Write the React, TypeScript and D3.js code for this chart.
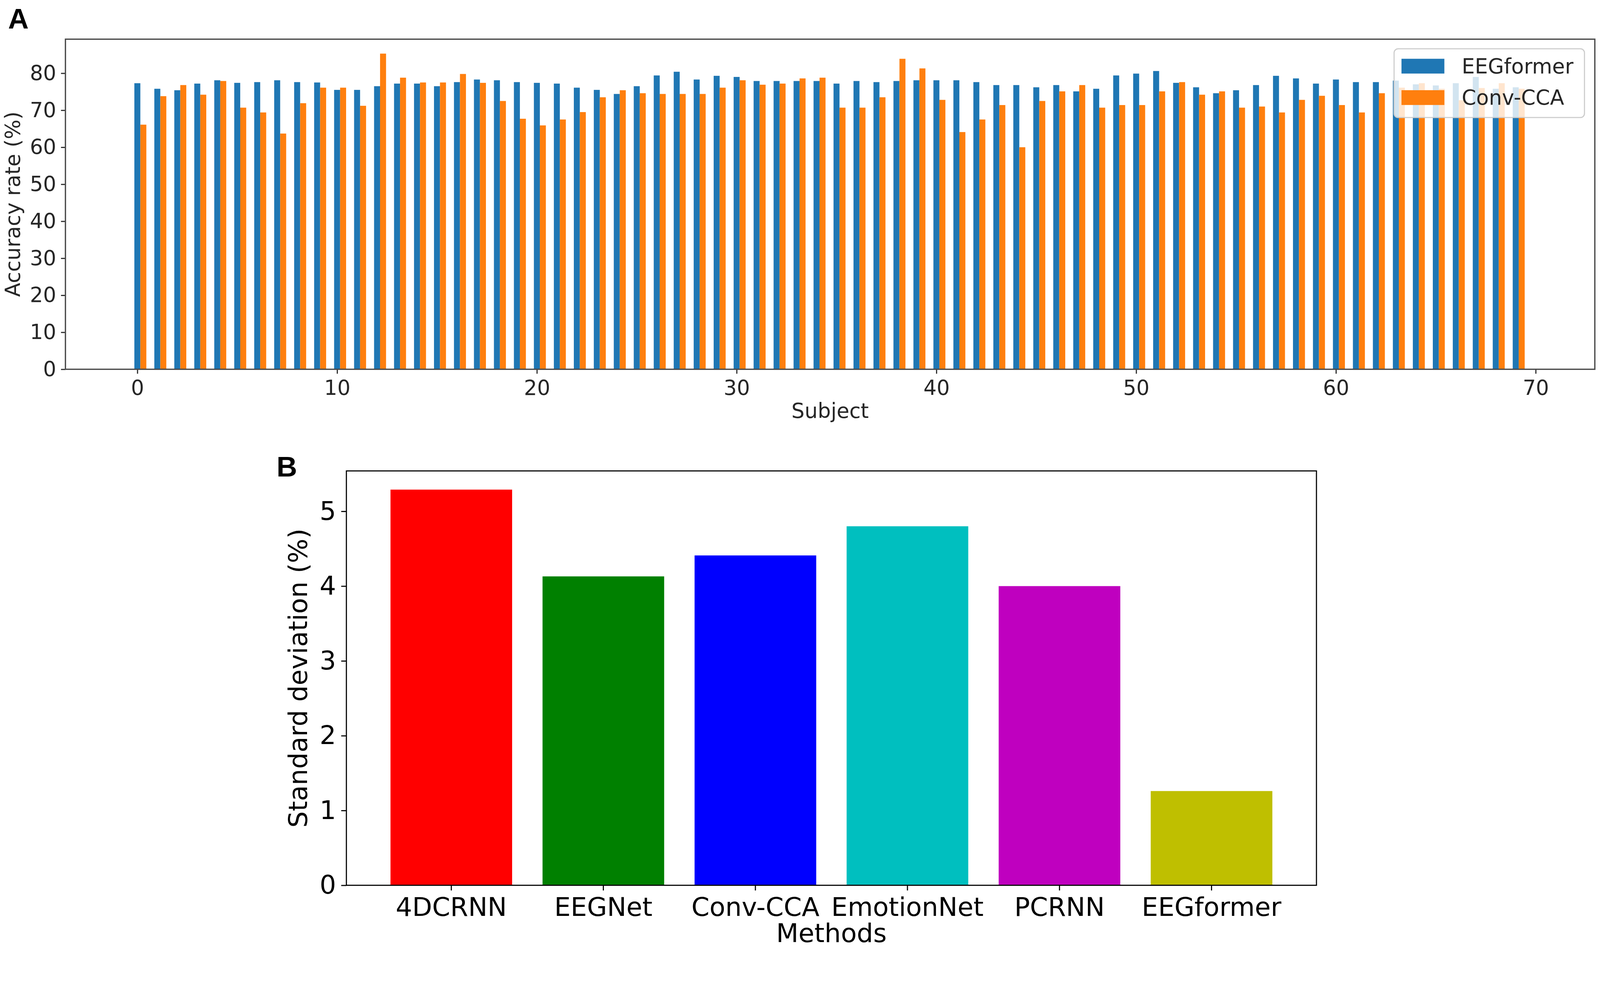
import { useEffect, useRef } from 'react'
import * as d3 from 'd3'

const W = 4328, H = 2568
const FONT = '"DejaVu Sans", Verdana, sans-serif'

// Panel A: per-subject accuracy (%)
const SUBJECTS = d3.range(70)
const EEGFORMER = [
  77.3, 75.8, 75.4, 77.2, 78.1, 77.4, 77.6, 78.1, 77.6, 77.5,
  75.5, 75.5, 76.5, 77.2, 77.2, 76.5, 77.6, 78.3, 78.1, 77.6,
  77.4, 77.2, 76.1, 75.5, 74.4, 76.5, 79.4, 80.4, 78.3, 79.3,
  79.0, 77.9, 77.9, 77.9, 77.9, 77.2, 77.9, 77.6, 77.9, 78.1,
  78.1, 78.1, 77.6, 76.8, 76.8, 76.2, 76.8, 75.1, 75.8, 79.4,
  79.9, 80.6, 77.4, 76.2, 74.6, 75.4, 76.8, 79.3, 78.6, 77.2,
  78.3, 77.6, 77.6, 78.0, 77.0, 76.7, 77.3, 79.0, 75.8, 76.2,
]
const CONV_CCA = [
  66.1, 73.8, 76.8, 74.2, 77.9, 70.7, 69.4, 63.7, 71.9, 76.1,
  76.1, 71.2, 85.3, 78.8, 77.5, 77.5, 79.8, 77.4, 72.5, 67.7,
  65.9, 67.5, 69.5, 73.5, 75.4, 74.6, 74.4, 74.4, 74.4, 76.1,
  78.1, 76.9, 77.2, 78.6, 78.8, 70.7, 70.7, 73.5, 83.9, 81.3,
  72.8, 64.1, 67.5, 71.4, 60.0, 72.5, 75.1, 76.8, 70.7, 71.4,
  71.4, 75.1, 77.6, 74.2, 75.1, 70.7, 71.0, 69.4, 72.8, 73.9,
  71.4, 69.4, 74.6, 76.1, 77.3, 75.8, 72.7, 76.0, 77.3, 75.8,
]
const SERIES_NAMES = ['EEGformer', 'Conv-CCA']
const SERIES_COLORS = ['#1f77b4', '#ff7f0e']
const A_YTICKS = [0, 10, 20, 30, 40, 50, 60, 70, 80]
const A_XTICKS = [0, 10, 20, 30, 40, 50, 60, 70]

// Panel B: standard deviation per method (%)
const METHODS = ['4DCRNN', 'EEGNet', 'Conv-CCA', 'EmotionNet', 'PCRNN', 'EEGformer']
const STD_DEV = [5.29, 4.13, 4.41, 4.80, 4.00, 1.26]
const METHOD_COLORS = ['#ff0000', '#008000', '#0000ff', '#00bfbf', '#bf00bf', '#bfbf00']
const B_YTICKS = [0, 1, 2, 3, 4, 5]

function styleAxis(g: d3.Selection<SVGGElement, unknown, null, undefined>, size: number, color: string, sw: number) {
  g.attr('font-family', FONT).attr('font-size', size).attr('color', color)
  g.select('.domain').remove()
  g.selectAll('line').attr('stroke-width', sw)
}

export default function App() {
  const ref = useRef<SVGSVGElement>(null)

  useEffect(() => {
    document.body.style.margin = '0'
    document.body.style.overflow = 'hidden'
    if (!ref.current) return
    const svg = d3.select(ref.current)
    svg.selectAll('*').remove()
    svg.append('rect').attr('width', W).attr('height', H).attr('fill', '#fff')

    // ---------- panel A ----------
    const A = { l: 177, r: 4314, t: 106, b: 999 }
    const bw = 0.3
    const xA = d3.scaleLinear().domain([-3.6, 72.96]).range([A.l, A.r])
    const yA = d3.scaleLinear().domain([0, 89.2]).range([A.b, A.t])
    const gA = svg.append('g')
    const inkA = '#262626'

    ;[EEGFORMER, CONV_CCA].forEach((vals, k) => {
      gA.append('g').selectAll('rect').data(vals).join('rect')
        .attr('x', (_, i) => xA(SUBJECTS[i] + k * bw - bw / 2))
        .attr('width', xA(bw) - xA(0))
        .attr('y', v => yA(v))
        .attr('height', v => yA(0) - yA(v))
        .attr('fill', SERIES_COLORS[k])
    })

    const axYA = gA.append('g').attr('transform', `translate(${A.l},0)`)
      .call(d3.axisLeft(yA).tickValues(A_YTICKS).tickSize(12).tickPadding(13).tickFormat(d3.format('d')))
    styleAxis(axYA, 56, inkA, 3)
    const axXA = gA.append('g').attr('transform', `translate(0,${A.b})`)
      .call(d3.axisBottom(xA).tickValues(A_XTICKS).tickSize(12).tickPadding(17).tickFormat(d3.format('d')))
    styleAxis(axXA, 56, inkA, 3)

    gA.append('rect').attr('x', A.l).attr('y', A.t).attr('width', A.r - A.l).attr('height', A.b - A.t)
      .attr('fill', 'none').attr('stroke', '#4a4a4a').attr('stroke-width', 3.5)

    gA.append('text').attr('transform', `translate(34,${(A.t + A.b) / 2}) rotate(-90)`)
      .attr('text-anchor', 'middle').attr('dominant-baseline', 'central')
      .attr('font-family', FONT).attr('font-size', 56).attr('fill', inkA).text('Accuracy rate (%)')
    gA.append('text').attr('x', (A.l + A.r) / 2).attr('y', 1131).attr('text-anchor', 'middle')
      .attr('font-family', FONT).attr('font-size', 56).attr('fill', inkA).text('Subject')

    // legend
    const leg = gA.append('g').attr('transform', `translate(${A.r - 543},${A.t + 26})`)
    leg.append('rect').attr('width', 515).attr('height', 186).attr('rx', 11)
      .attr('fill', '#fff').attr('fill-opacity', 0.8).attr('stroke', '#cccccc').attr('stroke-width', 3)
    SERIES_NAMES.forEach((name, k) => {
      const cy = 47 + k * 85
      leg.append('rect').attr('x', 20).attr('y', cy - 20).attr('width', 116).attr('height', 40).attr('fill', SERIES_COLORS[k])
      leg.append('text').attr('x', 183).attr('y', cy).attr('dominant-baseline', 'central')
        .attr('font-family', FONT).attr('font-size', 56).attr('fill', inkA).text(name)
    })

    svg.append('text').attr('x', 22).attr('y', 77).attr('font-family', '"Liberation Sans", Arial, sans-serif')
      .attr('font-weight', 'bold').attr('font-size', 77).attr('fill', '#000').text('A')

    // ---------- panel B ----------
    const B = { l: 937, r: 3561, t: 1274, b: 2395 }
    const xB = d3.scaleBand().domain(METHODS).range([B.l, B.r]).paddingInner(0.2).paddingOuter(0.29)
    const yB = d3.scaleLinear().domain([0, 5.54]).range([B.b, B.t])
    const gB = svg.append('g')

    gB.append('g').selectAll('rect').data(STD_DEV).join('rect')
      .attr('x', (_, i) => xB(METHODS[i])!)
      .attr('width', xB.bandwidth())
      .attr('y', v => yB(v))
      .attr('height', v => yB(0) - yB(v))
      .attr('fill', (_, i) => METHOD_COLORS[i])

    const axYB = gB.append('g').attr('transform', `translate(${B.l},0)`)
      .call(d3.axisLeft(yB).tickValues(B_YTICKS).tickSize(14).tickPadding(14).tickFormat(d3.format('d')))
    styleAxis(axYB, 70, '#000', 3)
    const axXB = gB.append('g').attr('transform', `translate(0,${B.b})`)
      .call(d3.axisBottom(xB).tickSize(14).tickPadding(19))
    styleAxis(axXB, 70, '#000', 3)

    gB.append('rect').attr('x', B.l).attr('y', B.t).attr('width', B.r - B.l).attr('height', B.b - B.t)
      .attr('fill', 'none').attr('stroke', '#000').attr('stroke-width', 3)

    gB.append('text').attr('transform', `translate(807,${(B.t + B.b) / 2}) rotate(-90)`)
      .attr('text-anchor', 'middle').attr('dominant-baseline', 'central')
      .attr('font-family', FONT).attr('font-size', 70).attr('fill', '#000').text('Standard deviation (%)')
    gB.append('text').attr('x', (B.l + B.r) / 2).attr('y', 2549).attr('text-anchor', 'middle')
      .attr('font-family', FONT).attr('font-size', 70).attr('fill', '#000').text('Methods')

    svg.append('text').attr('x', 748).attr('y', 1289).attr('font-family', '"Liberation Sans", Arial, sans-serif')
      .attr('font-weight', 'bold').attr('font-size', 77).attr('fill', '#000').text('B')
  }, [])

  return (
    <svg ref={ref} viewBox={`0 0 ${W} ${H}`} preserveAspectRatio="xMinYMin meet"
      style={{ display: 'block', width: '100vw', height: '100vh' }} />
  )
}
